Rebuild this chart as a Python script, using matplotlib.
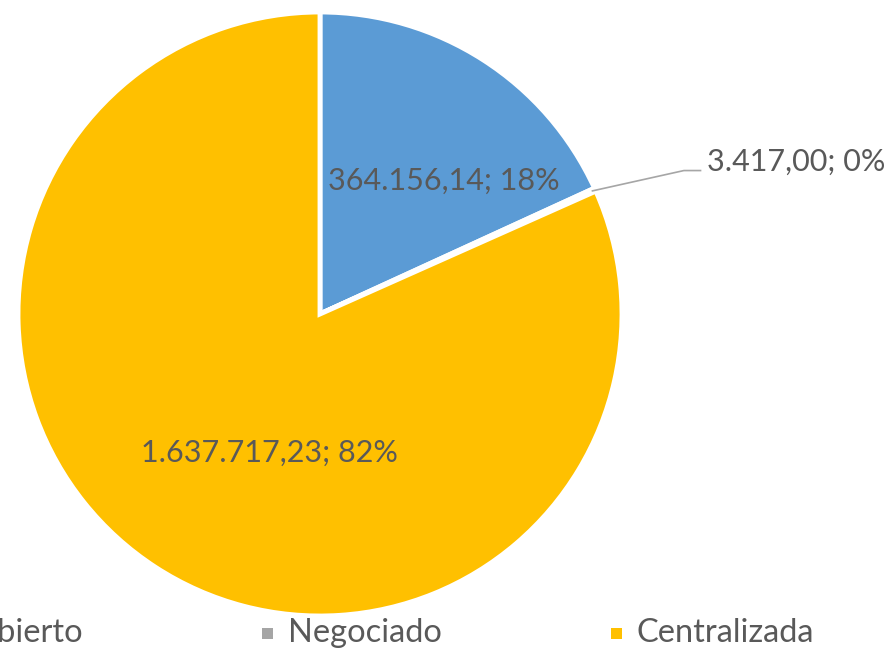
import matplotlib
matplotlib.use("Agg")
import matplotlib.pyplot as plt
from matplotlib.patches import Rectangle
import numpy as np

categories = ["Abierto", "Negociado", "Centralizada"]
values = [364156.14, 3417.00, 1637717.23]
value_labels = ["364.156,14", "3.417,00", "1.637.717,23"]
colors = ["#5B9BD5", "#A5A5A5", "#FFC000"]

W, H = 893, 651
fig = plt.figure(figsize=(W / 100, H / 100), dpi=100)
plt.rcParams['font.family'] = ['Lato', 'DejaVu Sans']
txt_color = "#595959"
fs = 22
lfs = 23.5

cx, cy, r = 320, 314, 302
ax = fig.add_axes([(cx - r) / W, (H - cy - r) / H, 2 * r / W, 2 * r / H])
ax.pie(values, colors=colors, startangle=90, counterclock=False, radius=1,
       wedgeprops=dict(edgecolor="white", linewidth=3.5))
ax.set_xlim(-1, 1)
ax.set_ylim(-1, 1)
ax.set_aspect("equal")
ax.axis("off")

total = sum(values)
pcts = [f"{round(v / total * 100):d}%" for v in values]
labels = [f"{vl}; {p}" for vl, p in zip(value_labels, pcts)]

# label positions (data coords)
ax.text(0.41, 0.44, labels[0], ha="center", va="center", fontsize=fs, color=txt_color)
ax.text(-0.166, -0.46, labels[2], ha="center", va="center", fontsize=fs, color=txt_color)
# small slice: leader line
ang = np.deg2rad(90 - (values[0] + values[1] / 2) / total * 360)
p0 = (np.cos(ang) * 0.99, np.sin(ang) * 0.99)
p1 = (1.205, 0.475)
p2 = (1.26, 0.475)
ax.plot([p0[0], p1[0], p2[0]], [p0[1], p1[1], p2[1]], color="#A6A6A6", lw=1.2,
        clip_on=False)
ax.text(1.28, 0.475, labels[1], ha="left", va="baseline", fontsize=fs, color=txt_color)

# legend (manual, bottom; first entry partially cut off as in the reference)
ly = 633
sq = 11
entries = [(84, "right"), (288, "left"), (637, "left")]
for (x, ha), cat, col in zip(entries, categories, colors):
    fig.text(x / W, 1 - ly / H, cat, ha=ha, va="center", fontsize=lfs, color=txt_color)
    if ha == "left":
        sx = x - 26
        fig.add_artist(Rectangle((sx / W, 1 - (ly + sq / 2) / H), sq / W, sq / H,
                                 transform=fig.transFigure, facecolor=col, edgecolor="none"))

fig.savefig("out.png", dpi=100)
